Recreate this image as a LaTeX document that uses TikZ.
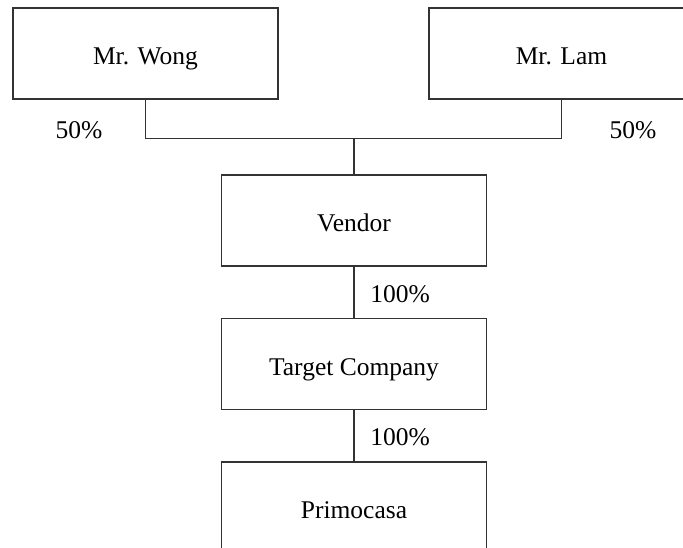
\documentclass[tikz,border=0pt]{standalone}
\usepackage{fontspec}
\setmainfont{Liberation Serif}
\begin{document}
\begin{tikzpicture}[x=1pt,y=-1pt,
  box/.style={draw=black!80,line width=1.2pt,minimum width=265pt,minimum height=91pt,inner sep=0pt,text height=25.5pt,text depth=3.5pt,font=\fontsize{25.5}{30}\selectfont},
  lbl/.style={inner sep=0pt,font=\fontsize{25.5}{30}\selectfont},
  conn/.style={draw=black!80,line width=1.2pt}]
\useasboundingbox (0,0) rectangle (683,547);
\clip (0,0) rectangle (683,547);
\node[box] (wong) at (145.5,53.5) {Mr. Wong};
\node[box] (lam) at (561.5,53.5) {Mr. Lam};
\node[box] (vendor) at (354,220.5) {Vendor};
\node[box] (target) at (354,364) {Target Company};
\node[box] (primo) at (354,507.5) {Primocasa};
\coordinate (jn) at (354,138.5);
\path[conn] (wong.south) |- (jn);
\path[conn] (lam.south) |- (jn);
\path[conn] (jn) -- (vendor.north);
\path[conn] (vendor.south) -- (target.north);
\path[conn] (target.south) -- (primo.north);
\node[lbl] (p1) at (79,130) {50\%};
\node[lbl] (p2) at (633,130) {50\%};
\node[lbl] (p3) at (400,294) {100\%};
\node[lbl] (p4) at (400,437) {100\%};
\end{tikzpicture}
\end{document}
